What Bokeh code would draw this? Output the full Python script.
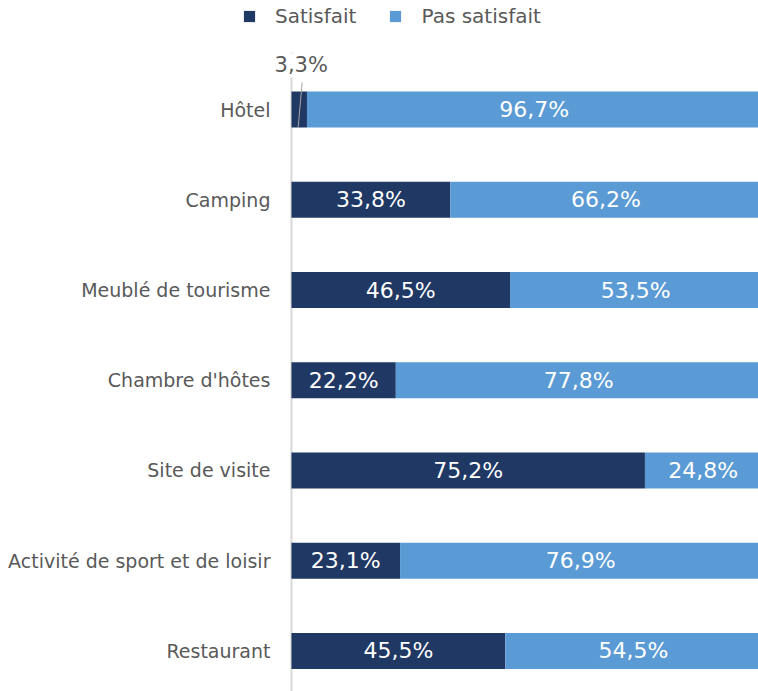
from bokeh.plotting import figure
from bokeh.models import (Range1d, Legend, LegendItem, Label, ColumnDataSource)
from bokeh.embed import file_html
from bokeh.resources import INLINE
from bokeh.core.properties import value

categories = ["Hôtel", "Camping", "Meublé de tourisme", "Chambre d'hôtes",
              "Site de visite", "Activité de sport et de loisir", "Restaurant"]
satisfait = [3.3, 33.8, 46.5, 22.2, 75.2, 23.1, 45.5]
pas_satisfait = [96.7, 66.2, 53.5, 77.8, 24.8, 76.9, 54.5]
series_names = ["Satisfait", "Pas satisfait"]
colors = ["#203864", "#5B9BD5"]

FONT = "DejaVu Sans"
GRAY = "#595959"

def fmt(v):
    return f"{v:.1f}".replace(".", ",") + "%"

ypos = list(range(len(categories)))
sat = [v / 100 for v in satisfait]
pas = [v / 100 for v in pas_satisfait]
pas_left = sat
pas_right = [a + b for a, b in zip(sat, pas)]

src = ColumnDataSource(dict(
    y=ypos, sat=sat, pas_left=pas_left, pas_right=pas_right,
    sat_mid=[s / 2 for s in sat],
    pas_mid=[(l + r) / 2 for l, r in zip(pas_left, pas_right)],
    sat_lbl=[fmt(v) for v in satisfait],
    pas_lbl=[fmt(v) for v in pas_satisfait],
    cat=categories, zero=[0] * len(categories),
))

Y_START, Y_END = 6.449, -1.208
p = figure(width=758, height=691, output_backend="svg", toolbar_location=None,
           x_range=Range1d(-0.619, 0.9936), y_range=Range1d(Y_START, Y_END),
           min_border=0)
p.outline_line_color = None
p.xgrid.visible = False
p.ygrid.visible = False
p.xaxis.visible = False
p.yaxis.visible = False

# category axis: line + labels
p.segment(x0=[0], y0=[Y_START], x1=[0], y1=[-0.63],
          line_color="#D9D9D9", line_width=2)
p.text(x="zero", y="y", text="cat", source=src, x_offset=-21,
       text_align="right", text_baseline="middle", text_color=GRAY,
       text_font=value(FONT), text_font_size="19px")

r1 = p.hbar(y="y", left=0, right="sat", height=0.4, source=src,
            fill_color=colors[0], line_color=None)
r2 = p.hbar(y="y", left="pas_left", right="pas_right", height=0.4, source=src,
            fill_color=colors[1], line_color=None)

# bar labels (Hôtel satisfait label is placed above the bar)
inner = ColumnDataSource(dict(
    x=src.data["sat_mid"][1:], y=ypos[1:], t=src.data["sat_lbl"][1:]))
p.text(x="x", y="y", text="t", source=inner, text_align="center",
       text_baseline="middle", text_color="white", text_font=value(FONT),
       text_font_size="22px")
p.text(x="pas_mid", y="y", text="pas_lbl", source=src, text_align="center",
       text_baseline="middle", text_color="white", text_font=value(FONT),
       text_font_size="22px")

# outside label for Hôtel satisfait with leader line
p.segment(x0=[sat[0] * 0.69], y0=[-0.30], x1=[sat[0] * 0.43], y1=[0.2],
          line_color="#A6A6A6", line_width=1)
p.add_layout(Label(x=sat[0] / 2, y=-0.488, text=fmt(satisfait[0]),
                   x_offset=2, text_align="center", text_baseline="middle",
                   text_color=GRAY, text_font=FONT, text_font_size="21px",
                   background_fill_color="white"))

legend = Legend(items=[LegendItem(label=series_names[0], renderers=[r1]),
                       LegendItem(label=series_names[1], renderers=[r2])],
                orientation="horizontal", location=(242, 663),
                label_text_font=FONT, label_text_font_size="20px",
                label_text_color=GRAY, glyph_width=14, glyph_height=14,
                label_height=20, label_standoff=19, spacing=32,
                border_line_color=None, background_fill_alpha=0,
                margin=0, padding=0)
p.add_layout(legend)

open("out.html", "w").write(file_html(p, INLINE))
